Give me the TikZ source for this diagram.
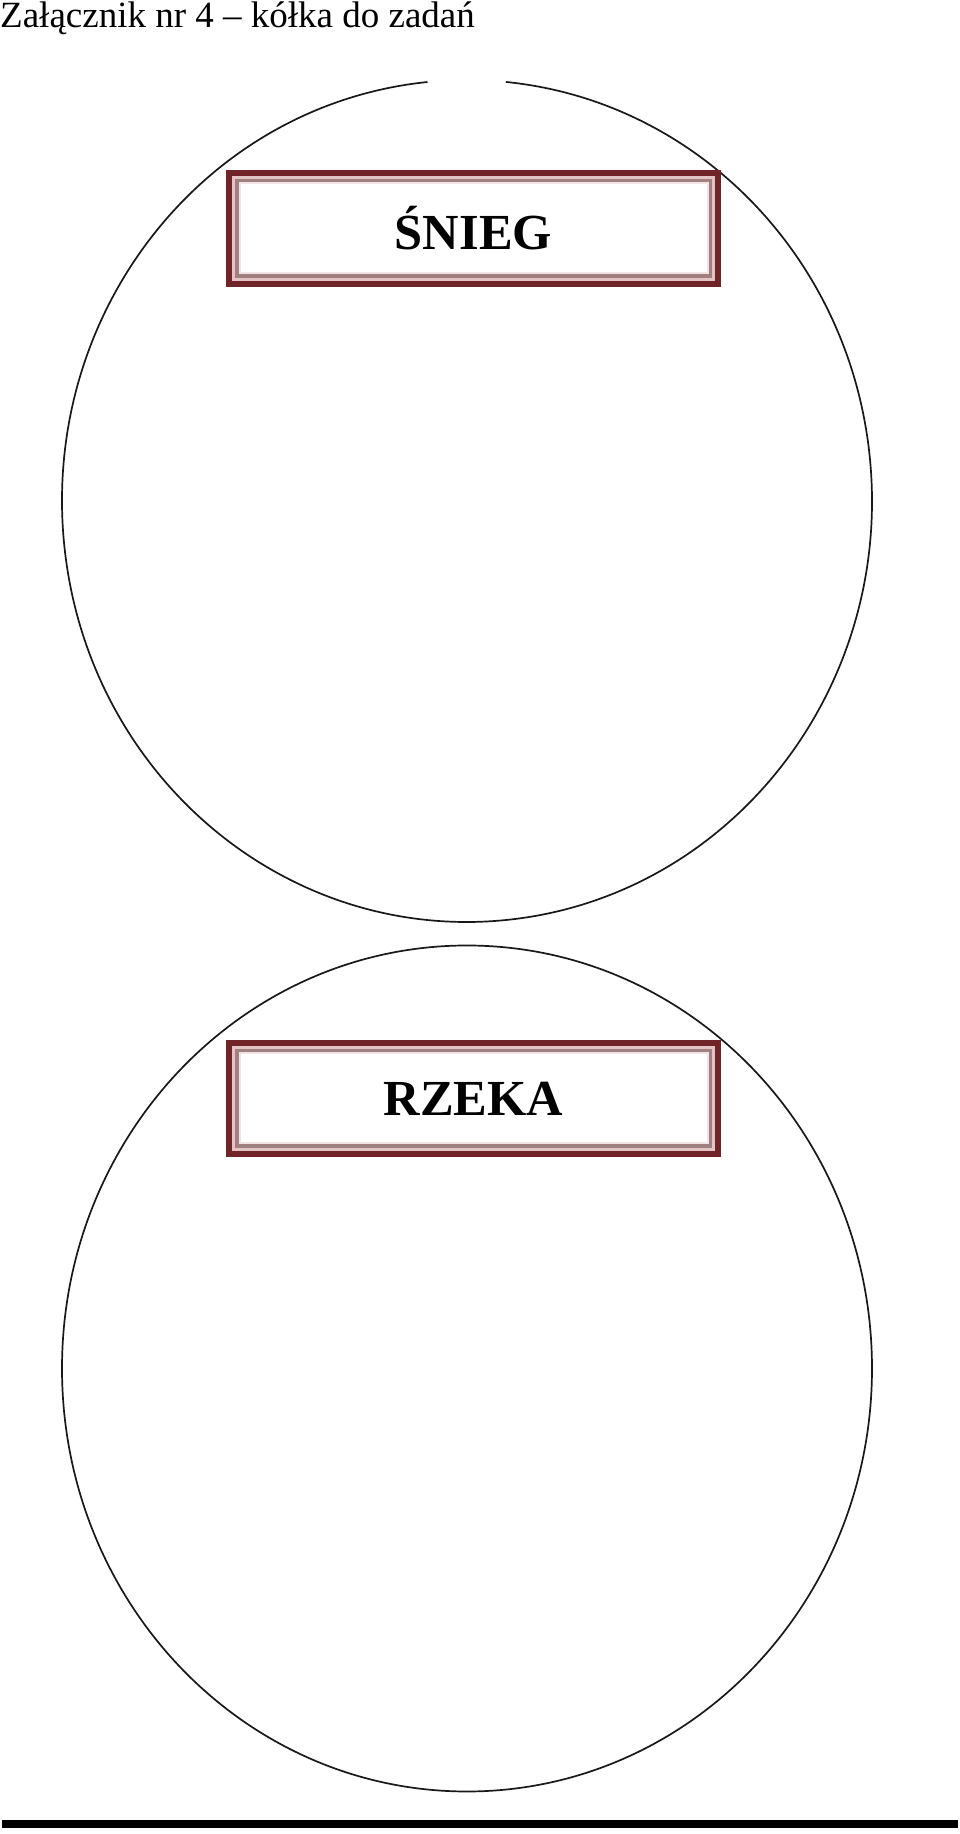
\documentclass[tikz,border=0pt]{standalone}
\usepackage{fontspec}
\setmainfont{Liberation Serif}
\definecolor{maroon}{RGB}{112,36,40}
\definecolor{pinkstripe}{RGB}{226,196,196}
\definecolor{mauve}{RGB}{160,128,128}
\definecolor{lightstripe}{RGB}{242,228,228}
\tikzset{
  labelbox/.style={draw=maroon, line width=6pt, outer sep=0pt, inner sep=0pt,
    minimum width=489pt, minimum height=111pt,
    font=\fontsize{50.5}{60}\selectfont\bfseries, text=black},
  ring/.style={draw=black!90, line width=1.7pt},
  titletext/.style={font=\fontsize{37}{44}\selectfont, inner sep=0pt, anchor=base west}
}
\newcommand{\boxtrim}[1]{%
  \draw[pinkstripe, line width=3pt] ([shift={(4.5pt,-4.5pt)}]#1.north west) rectangle ([shift={(-4.5pt,4.5pt)}]#1.south east);
  \draw[mauve, line width=3.5pt] ([shift={(8pt,-8pt)}]#1.north west) rectangle ([shift={(-8pt,8pt)}]#1.south east);
  \draw[lightstripe, line width=2pt] ([shift={(10.5pt,-10.5pt)}]#1.north west) rectangle ([shift={(-10.5pt,10.5pt)}]#1.south east);
}
\begin{document}
\begin{tikzpicture}[x=1pt,y=1pt]
\useasboundingbox (0,0) rectangle (960,1834);
\fill[white] (0,0) rectangle (960,1834);
% title
\node[titletext] (title) at (0,1806) {Załącznik nr 4 – kółka do zadań};
% circles
\coordinate (c1) at (467,1333);
\coordinate (c2) at (467,465.5);
\draw[ring] ([shift={(95.6:405pt and 421pt)}]c1) arc[start angle=95.6, end angle=444.5, x radius=405pt, y radius=421pt];
\draw[ring] (c2) ellipse[x radius=405pt, y radius=423pt];
% label boxes
\node[labelbox] (snieg) at (473.5,1605.5) {ŚNIEG};
\boxtrim{snieg}
\node[labelbox] (rzeka) at (473.5,735.5) {RZEKA};
\boxtrim{rzeka}
% bottom rule
\coordinate (ruleL) at (2,10);
\coordinate (ruleR) at (958,10);
\draw[black, line width=8pt] (ruleL) -- (ruleR);
\end{tikzpicture}
\end{document}
